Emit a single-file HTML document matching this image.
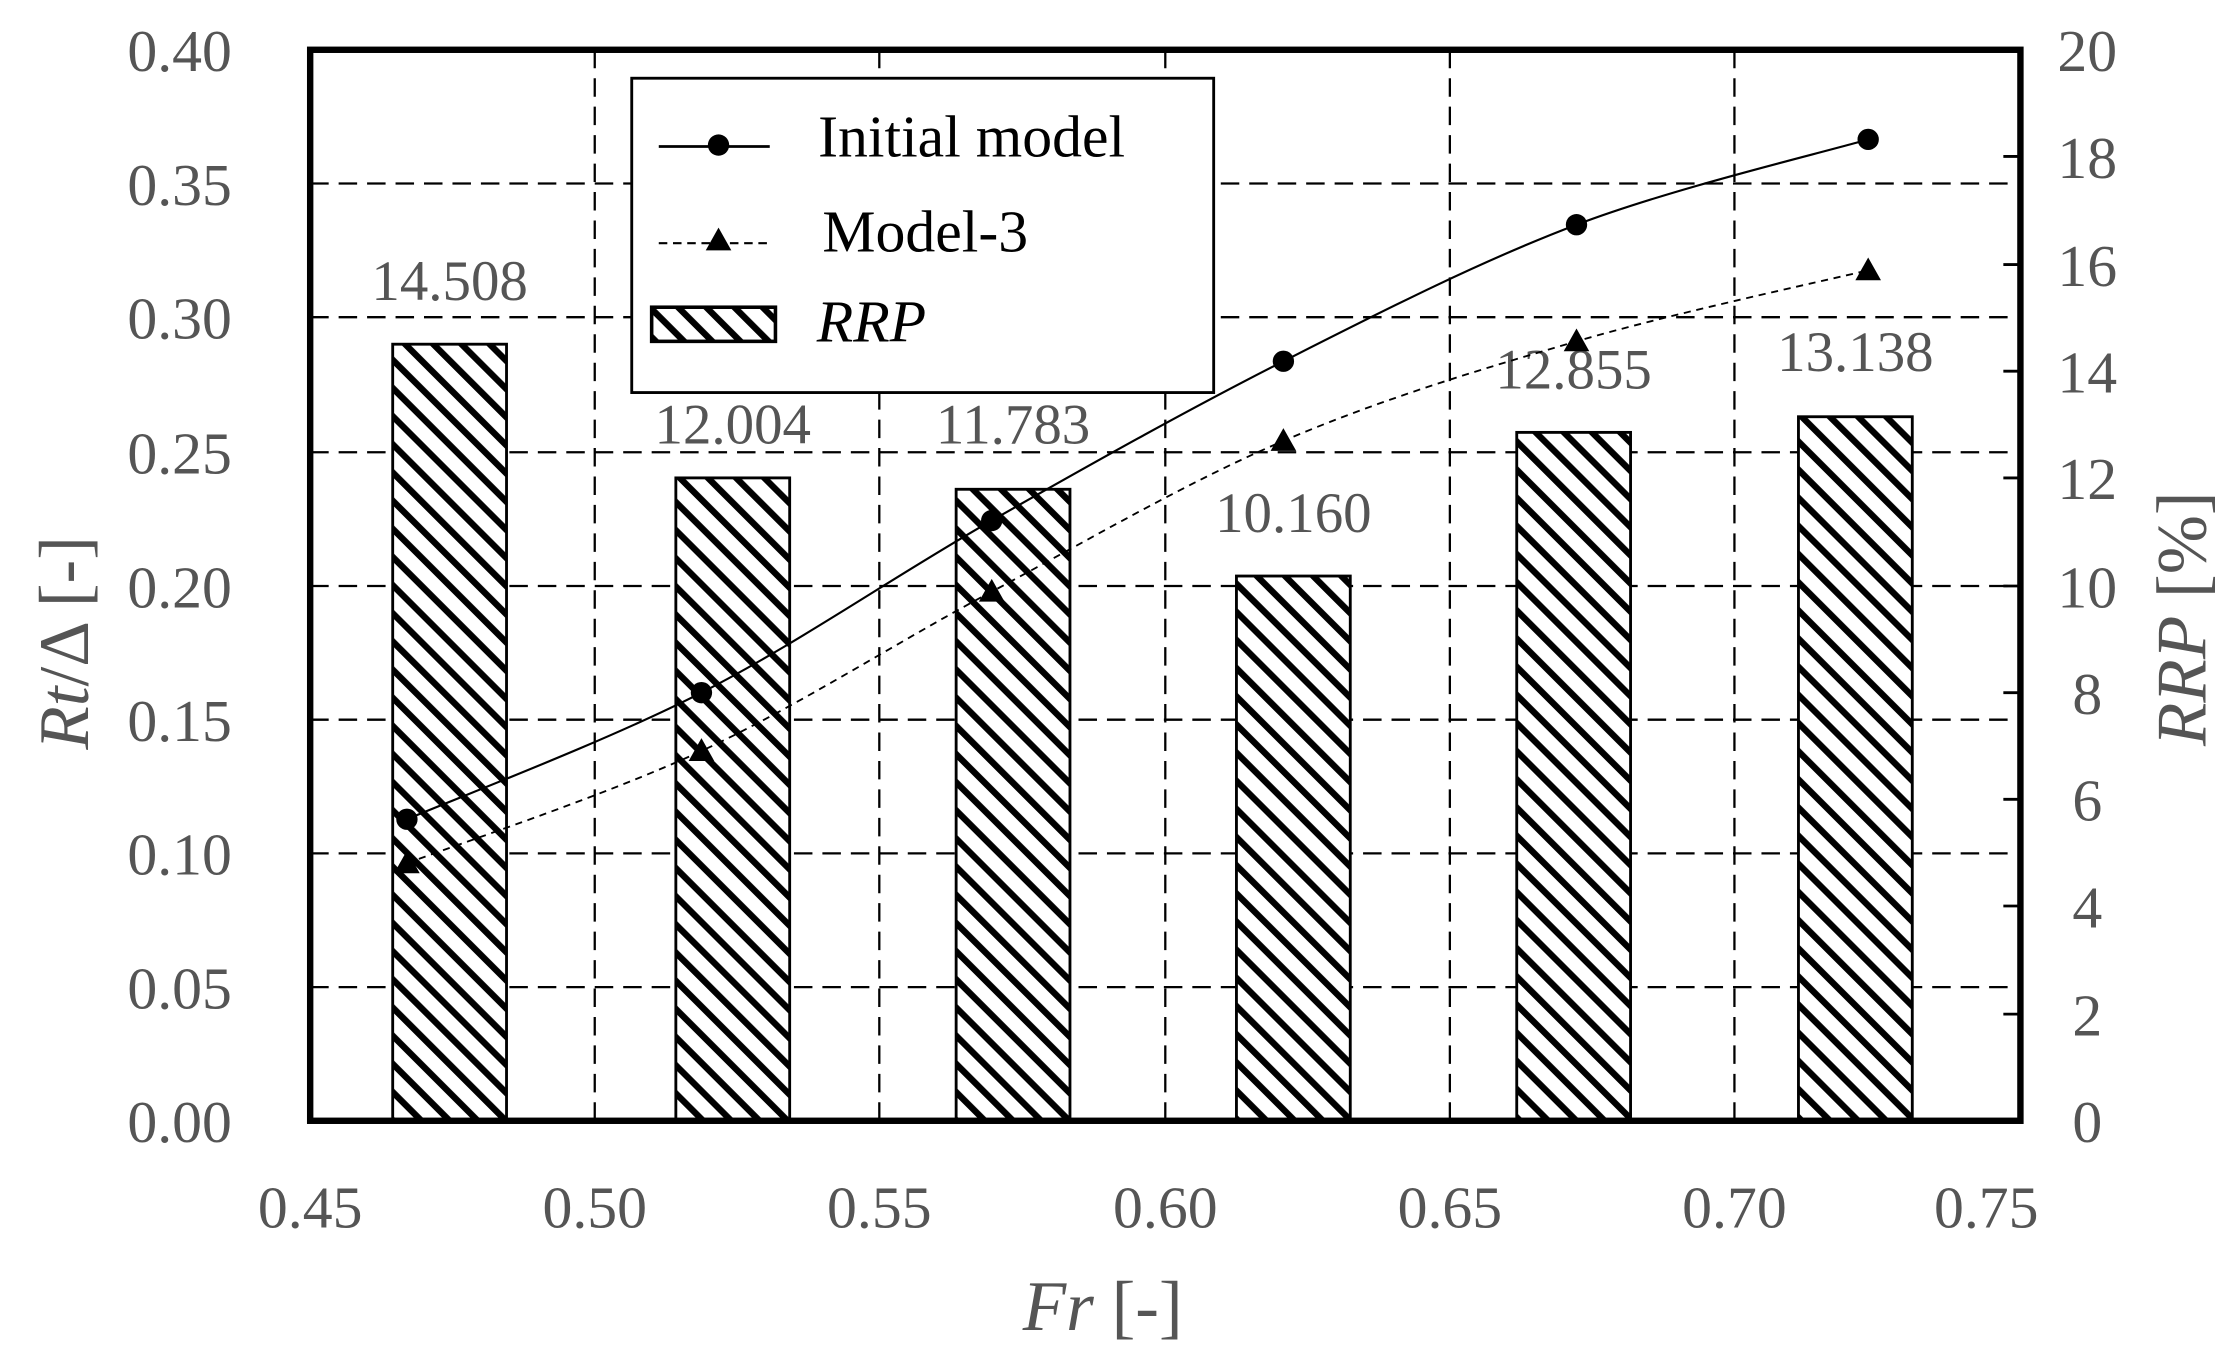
<!DOCTYPE html>
<html><head><meta charset="utf-8"><style>html,body{margin:0;padding:0;background:#fff}svg{display:block}</style></head>
<body>
<svg width="2231" height="1364" viewBox="0 0 1568 959" preserveAspectRatio="none" xmlns="http://www.w3.org/2000/svg" font-family="'Liberation Serif', serif">
<defs>
<pattern id="h" patternUnits="userSpaceOnUse" width="14" height="14" patternTransform="rotate(-45)">
<rect width="14" height="14" fill="#fff"/><rect x="0" y="0" width="4.5" height="14" fill="#000"/>
</pattern>
</defs>
<rect width="1568" height="959" fill="#fff"/>
<g stroke="#000" stroke-width="1.6" stroke-dasharray="13,7" fill="none">
<line x1="218" y1="129" x2="1420" y2="129"/>
<line x1="218" y1="223" x2="1420" y2="223"/>
<line x1="218" y1="318" x2="1420" y2="318"/>
<line x1="218" y1="412" x2="1420" y2="412"/>
<line x1="218" y1="506" x2="1420" y2="506"/>
<line x1="218" y1="600" x2="1420" y2="600"/>
<line x1="218" y1="694" x2="1420" y2="694"/>
<line x1="418" y1="35" x2="418" y2="788"/>
<line x1="618" y1="35" x2="618" y2="788"/>
<line x1="819" y1="35" x2="819" y2="788"/>
<line x1="1019" y1="35" x2="1019" y2="788"/>
<line x1="1219" y1="35" x2="1219" y2="788"/>
</g>
<g fill="url(#h)" stroke="#000" stroke-width="2">
<rect x="276" y="242" width="80" height="546"/>
<rect x="475" y="336" width="80" height="452"/>
<rect x="672" y="344" width="80" height="444"/>
<rect x="869" y="405" width="80" height="383"/>
<rect x="1066" y="304" width="80" height="484"/>
<rect x="1264" y="293" width="80" height="495"/>
</g>
<g fill="#555" font-size="40" text-anchor="middle">
<text x="316" y="211">14.508</text>
<text x="515" y="312">12.004</text>
<text x="712" y="312">11.783</text>
<text x="909" y="374">10.160</text>
<text x="1106" y="273">12.855</text>
<text x="1304" y="261">13.138</text>
</g>
<path d="M286,576 C320.5,561.2 424.5,522 493,487 C561.5,452 628.8,404.8 697,366 C765.2,327.2 833.5,288.7 902,254 C970.5,219.3 1039.5,184 1108,158 C1176.5,132 1278.8,108 1313,98" fill="none" stroke="#000" stroke-width="1.5"/>
<path d="M286,607 C320.5,593.8 424.5,559.8 493,528 C561.5,496.2 628.8,452.3 697,416 C765.2,379.7 833.5,339.3 902,310 C970.5,280.7 1039.5,260 1108,240 C1176.5,220 1278.8,198.3 1313,190" fill="none" stroke="#000" stroke-width="1.3" stroke-dasharray="5,4"/>
<g fill="#000">
<circle cx="286" cy="576" r="7.5"/><circle cx="493" cy="487" r="7.5"/><circle cx="697" cy="366" r="7.5"/><circle cx="902" cy="254" r="7.5"/><circle cx="1108" cy="158" r="7.5"/><circle cx="1313" cy="98" r="7.5"/>
<path d="M286,598 l-9,16 h18z"/><path d="M493,519 l-9,16 h18z"/><path d="M697,407 l-9,16 h18z"/><path d="M902,301 l-9,16 h18z"/><path d="M1108,231 l-9,16 h18z"/><path d="M1313,181 l-9,16 h18z"/>
</g>
<rect x="444" y="55" width="409" height="221" fill="#fff" stroke="#000" stroke-width="2"/>
<line x1="463" y1="103" x2="541" y2="103" stroke="#000" stroke-width="2"/>
<circle cx="505" cy="102" r="7.5"/>
<line x1="463" y1="171" x2="541" y2="171" stroke="#000" stroke-width="1.5" stroke-dasharray="6,4"/>
<path d="M505,160 l-9,16 h18z"/>
<rect x="458" y="216" width="87" height="24" fill="url(#h)" stroke="#000" stroke-width="2.5"/>
<g fill="#000" font-size="42">
<text x="575" y="110">Initial model</text>
<text x="578" y="177">Model-3</text>
<text x="574" y="240" font-style="italic">RRP</text>
</g>
<rect x="218" y="35" width="1202" height="753" fill="none" stroke="#000" stroke-width="4.5"/>
<g stroke="#000" stroke-width="2">
<line x1="1408" y1="110" x2="1420" y2="110"/><line x1="1408" y1="186" x2="1420" y2="186"/><line x1="1408" y1="261" x2="1420" y2="261"/><line x1="1408" y1="336" x2="1420" y2="336"/><line x1="1408" y1="412" x2="1420" y2="412"/><line x1="1408" y1="487" x2="1420" y2="487"/><line x1="1408" y1="562" x2="1420" y2="562"/><line x1="1408" y1="637" x2="1420" y2="637"/><line x1="1408" y1="713" x2="1420" y2="713"/>
</g>
<g fill="#555" font-size="42" text-anchor="end">
<text x="163" y="50">0.40</text><text x="163" y="144">0.35</text><text x="163" y="238">0.30</text><text x="163" y="333">0.25</text><text x="163" y="427">0.20</text><text x="163" y="521">0.15</text><text x="163" y="615">0.10</text><text x="163" y="709">0.05</text><text x="163" y="803">0.00</text>
</g>
<g fill="#555" font-size="42" text-anchor="middle">
<text x="1467" y="50">20</text><text x="1467" y="125">18</text><text x="1467" y="201">16</text><text x="1467" y="276">14</text><text x="1467" y="351">12</text><text x="1467" y="427">10</text><text x="1467" y="502">8</text><text x="1467" y="577">6</text><text x="1467" y="652">4</text><text x="1467" y="728">2</text><text x="1467" y="803">0</text>
<text x="218" y="863">0.45</text><text x="418" y="863">0.50</text><text x="618" y="863">0.55</text><text x="819" y="863">0.60</text><text x="1019" y="863">0.65</text><text x="1219" y="863">0.70</text><text x="1396" y="863">0.75</text>
</g>
<g fill="#555" font-size="50">
<text x="775" y="935" text-anchor="middle"><tspan font-style="italic">Fr</tspan> [-]</text>
<text transform="translate(62,452) rotate(-90)" text-anchor="middle"><tspan font-style="italic">Rt</tspan>/Δ [-]</text>
<text transform="translate(1550,435) rotate(-90)" text-anchor="middle"><tspan font-style="italic">RRP</tspan> [%]</text>
</g>
</svg>
</body></html>
